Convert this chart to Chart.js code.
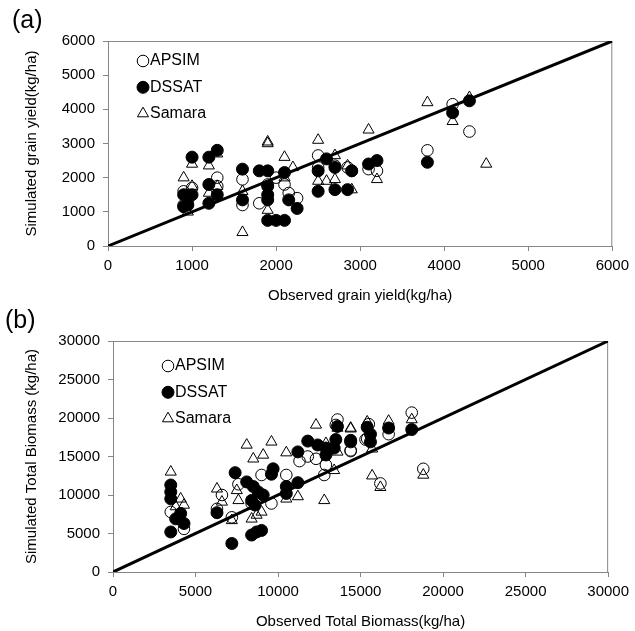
<!DOCTYPE html>
<html>
<head>
<meta charset="utf-8">
<script src="https://cdn.jsdelivr.net/npm/chart.js@4.4.1/dist/chart.umd.min.js"></script>
<style>
  body { margin: 0; background: #fff; }
  #wrap { position: relative; width: 635px; height: 631px; }
  #boxA { position: absolute; left: 0; top: 0; width: 635px; height: 310px; }
  #boxB { position: absolute; left: 0; top: 300px; width: 635px; height: 331px; }
</style>
</head>
<body>
<div id="wrap">
  <div id="boxA"><canvas id="chartA" width="635" height="310"></canvas></div>
  <div id="boxB"><canvas id="chartB" width="635" height="331"></canvas></div>
</div>
<script>
// (a) grain yield, kg/ha
const apsimGrainObs = [900, 950, 1000, 900, 1300, 1300, 1600, 1600, 1800, 1900, 2000, 2100, 2150, 2250, 2500, 2500, 2700, 2850, 2900, 3100, 3200, 3800, 4100, 4300];
const apsimGrainSim = [1600, 1350, 1700, 1200, 2000, 1750, 1950, 1200, 1250, 1800, 2000, 1800, 1550, 1400, 2650, 2300, 2350, 2300, 2200, 2250, 2200, 2800, 4150, 3350];
const dssatGrainObs = [1000, 900, 1000, 900, 950, 1200, 1300, 1200, 1200, 1300, 1600, 1600, 1800, 1900, 1900, 1900, 1900, 1900, 2000, 2100, 2100, 2150, 2250, 2600, 2500, 2500, 2700, 2700, 2850, 2900, 3100, 3200, 3800, 4100, 4300];
const dssatGrainSim = [2600, 1500, 1500, 1150, 1200, 2600, 2800, 1800, 1250, 1500, 2250, 1350, 2200, 2200, 1750, 1500, 1350, 750, 750, 750, 2150, 1350, 1100, 2550, 2200, 1600, 2300, 1650, 1650, 2200, 2400, 2500, 2450, 3900, 4250];
const samaraGrainObs = [900, 1000, 1000, 950, 1200, 1200, 1300, 1300, 1600, 1600, 1900, 1900, 1900, 2100, 2100, 2200, 2500, 2500, 2600, 2700, 2700, 2850, 2900, 3100, 3200, 3800, 4100, 4300, 4500];
const samaraGrainSim = [2000, 2400, 1750, 1000, 2350, 1550, 2700, 1750, 400, 1600, 3050, 3000, 1050, 2600, 2000, 2300, 3100, 1900, 1900, 2650, 1950, 2350, 1650, 3400, 1950, 4200, 3650, 4350, 2400];

// (b) total biomass, kg/ha
const apsimBioObs = [3500, 4000, 4300, 6300, 6600, 7200, 7600, 8400, 9000, 9600, 10500, 11300, 11800, 12300, 12800, 12900, 13500, 13600, 14400, 15300, 14400, 15500, 15400, 16700, 18100, 16200, 18800];
const apsimBioSim = [7800, 7100, 5600, 8200, 10000, 7100, 11400, 8900, 12600, 8900, 12600, 14400, 15000, 14700, 12600, 13900, 19100, 19800, 15700, 17200, 15800, 19200, 17300, 17900, 20700, 11500, 13400];
const dssatBioObs = [3500, 3500, 3500, 3500, 3800, 4100, 4300, 6300, 7400, 7200, 8100, 8500, 8800, 9100, 8400, 8600, 8400, 8700, 9000, 9600, 9700, 10500, 10500, 11200, 11200, 11800, 12400, 12900, 12900, 13400, 13500, 13600, 14400, 14400, 15400, 15600, 15600, 16700, 18100];
const dssatBioSim = [11300, 10400, 9500, 5200, 6900, 7600, 6300, 7700, 12900, 3700, 11700, 11100, 10400, 10000, 9300, 8700, 4800, 5200, 5400, 12700, 13400, 11100, 10200, 11600, 15600, 17000, 16500, 16100, 15200, 16100, 17200, 18900, 17100, 16900, 18800, 16900, 17900, 18700, 18500];
const samaraBioObs = [3500, 4100, 4300, 3800, 6300, 6600, 7200, 7500, 7600, 8100, 8500, 9100, 9600, 8400, 8700, 9000, 10500, 10500, 11200, 12300, 12800, 12900, 13400, 13600, 14400, 13600, 14400, 15400, 15700, 16700, 18100, 15700, 16200, 18800];
const samaraBioSim = [13000, 9500, 8700, 8500, 10800, 9100, 6700, 10600, 9300, 16500, 14700, 15200, 16900, 6900, 7400, 7800, 15500, 9500, 9800, 19100, 9300, 16700, 13200, 18700, 18700, 15600, 18600, 19500, 16000, 19600, 19800, 12500, 11000, 12600];

const modelNames = ["APSIM", "DSSAT", "Samara"];

const FONT = "'Liberation Sans', Arial, sans-serif";
const GREY = "#868686";

const pairs = (xs, ys) => xs.map((x, i) => ({ x: x, y: ys[i] }));

// gray box round the plot area
const frame = {
  id: "frame",
  beforeDatasetsDraw(chart) {
    const { ctx, chartArea: a } = chart;
    ctx.save();
    ctx.strokeStyle = GREY;
    ctx.lineWidth = 1;
    ctx.strokeRect(a.left + 0.5, a.top + 0.5, a.right - a.left - 1, a.bottom - a.top);
    ctx.restore();
  },
};

// legend drawn inside the plot area, Excel style
const insideLegend = {
  id: "insideLegend",
  afterDraw(chart, args, opts) {
    const { ctx, chartArea } = chart;
    ctx.save();
    ctx.font = "16px " + FONT;
    ctx.textBaseline = "middle";
    let y = chartArea.top + opts.dy;
    const x = chartArea.left + opts.dx;
    chart.data.datasets.forEach((ds) => {
      if (ds.showLine) return;
      ctx.fillStyle = ds.backgroundColor;
      ctx.strokeStyle = ds.borderColor;
      ctx.lineWidth = ds.borderWidth;
      Chart.helpers.drawPoint(ctx, { pointStyle: ds.pointStyle, radius: ds.pointRadius, borderWidth: ds.borderWidth }, x, y);
      ctx.fillStyle = "#000";
      ctx.fillText(ds.label, x + 7, y);
      y += 26.3;
    });
    ctx.restore();
  },
};

function makeDatasets(maxVal, ax, ay, dx, dy, sx, sy) {
  return [
    {
      label: "1:1",
      data: [{ x: 0, y: 0 }, { x: maxVal, y: maxVal }],
      showLine: true,
      borderColor: "#000",
      borderWidth: 3,
      pointRadius: 0,
      order: 0,
    },
    {
      label: modelNames[0],
      data: pairs(ax, ay),
      pointStyle: "circle",
      pointRadius: 5.8,
      backgroundColor: "rgba(0,0,0,0)",
      borderColor: "#000",
      borderWidth: 1,
      order: 3,
    },
    {
      label: modelNames[1],
      data: pairs(dx, dy),
      pointStyle: "circle",
      pointRadius: 6,
      backgroundColor: "#000",
      borderColor: "#000",
      borderWidth: 1,
      order: 2,
    },
    {
      label: modelNames[2],
      data: pairs(sx, sy),
      pointStyle: "triangle",
      pointRadius: 6.4,
      backgroundColor: "rgba(0,0,0,0)",
      borderColor: "#000",
      borderWidth: 1,
      order: 1,
    },
  ];
}

function axis(max, step, titleText, opts) {
  return {
    type: "linear",
    min: 0,
    max: max,
    afterFit: opts.afterFit,
    ticks: {
      stepSize: step,
      autoSkip: false,
      maxRotation: 0,
      color: "#000",
      padding: opts.tickPad,
      font: { family: FONT, size: 15 },
      callback: (v) => String(v),
    },
    grid: { drawOnChartArea: false, drawTicks: true, tickLength: 5, color: GREY },
    border: { color: GREY, width: 1 },
    title: {
      display: true,
      text: titleText,
      color: "#000",
      font: { family: FONT, size: 15 },
      padding: opts.titlePad,
    },
  };
}

function makeConfig(p) {
  return {
    type: "scatter",
    data: { datasets: makeDatasets(p.max, ...p.series) },
    options: {
      responsive: false,
      animation: false,
      layout: { padding: { left: p.padLeft, right: 22, top: 0, bottom: 0 } },
      plugins: {
        legend: { display: false },
        tooltip: { enabled: false },
        title: {
          display: true,
          text: p.tag,
          align: "start",
          color: "#000",
          font: { family: FONT, size: 25, weight: "normal" },
          padding: { top: 6, bottom: 41 - 6 - 30 },
        },
        insideLegend: { dx: p.legendX, dy: p.legendY },
      },
      scales: {
        x: axis(p.max, p.step, p.xTitle, {
          tickPad: 6,
          titlePad: { top: 0, bottom: p.xTitleBottom },
          afterFit: (s) => { s.height = p.xHeight; },
        }),
        y: axis(p.max, p.step, p.yTitle, {
          tickPad: 8,
          titlePad: { top: p.yTitleTop, bottom: 0 },
          afterFit: (s) => { s.width = p.yWidth; },
        }),
      },
    },
    plugins: [frame, insideLegend],
  };
}

new Chart(document.getElementById("chartA"), makeConfig({
  tag: "(a)",
  max: 6000,
  step: 1000,
  series: [apsimGrainObs, apsimGrainSim, dssatGrainObs, dssatGrainSim, samaraGrainObs, samaraGrainSim],
  xTitle: "Observed grain yield(kg/ha)",
  yTitle: "Simulated grain yield(kg/ha)",
  padLeft: 12,
  yWidth: 96,
  yTitleTop: 11,
  xHeight: 64,
  xTitleBottom: 5,
  legendX: 35,
  legendY: 20,
}));

new Chart(document.getElementById("chartB"), makeConfig({
  tag: "(b)",
  max: 30000,
  step: 5000,
  series: [apsimBioObs, apsimBioSim, dssatBioObs, dssatBioSim, samaraBioObs, samaraBioSim],
  xTitle: "Observed Total Biomass(kg/ha)",
  yTitle: "Simulated Total Biomass (kg/ha)",
  padLeft: 5,
  yWidth: 108,
  yTitleTop: 18,
  xHeight: 59,
  xTitleBottom: 0,
  legendX: 55,
  legendY: 25,
}));
</script>
</body>
</html>
